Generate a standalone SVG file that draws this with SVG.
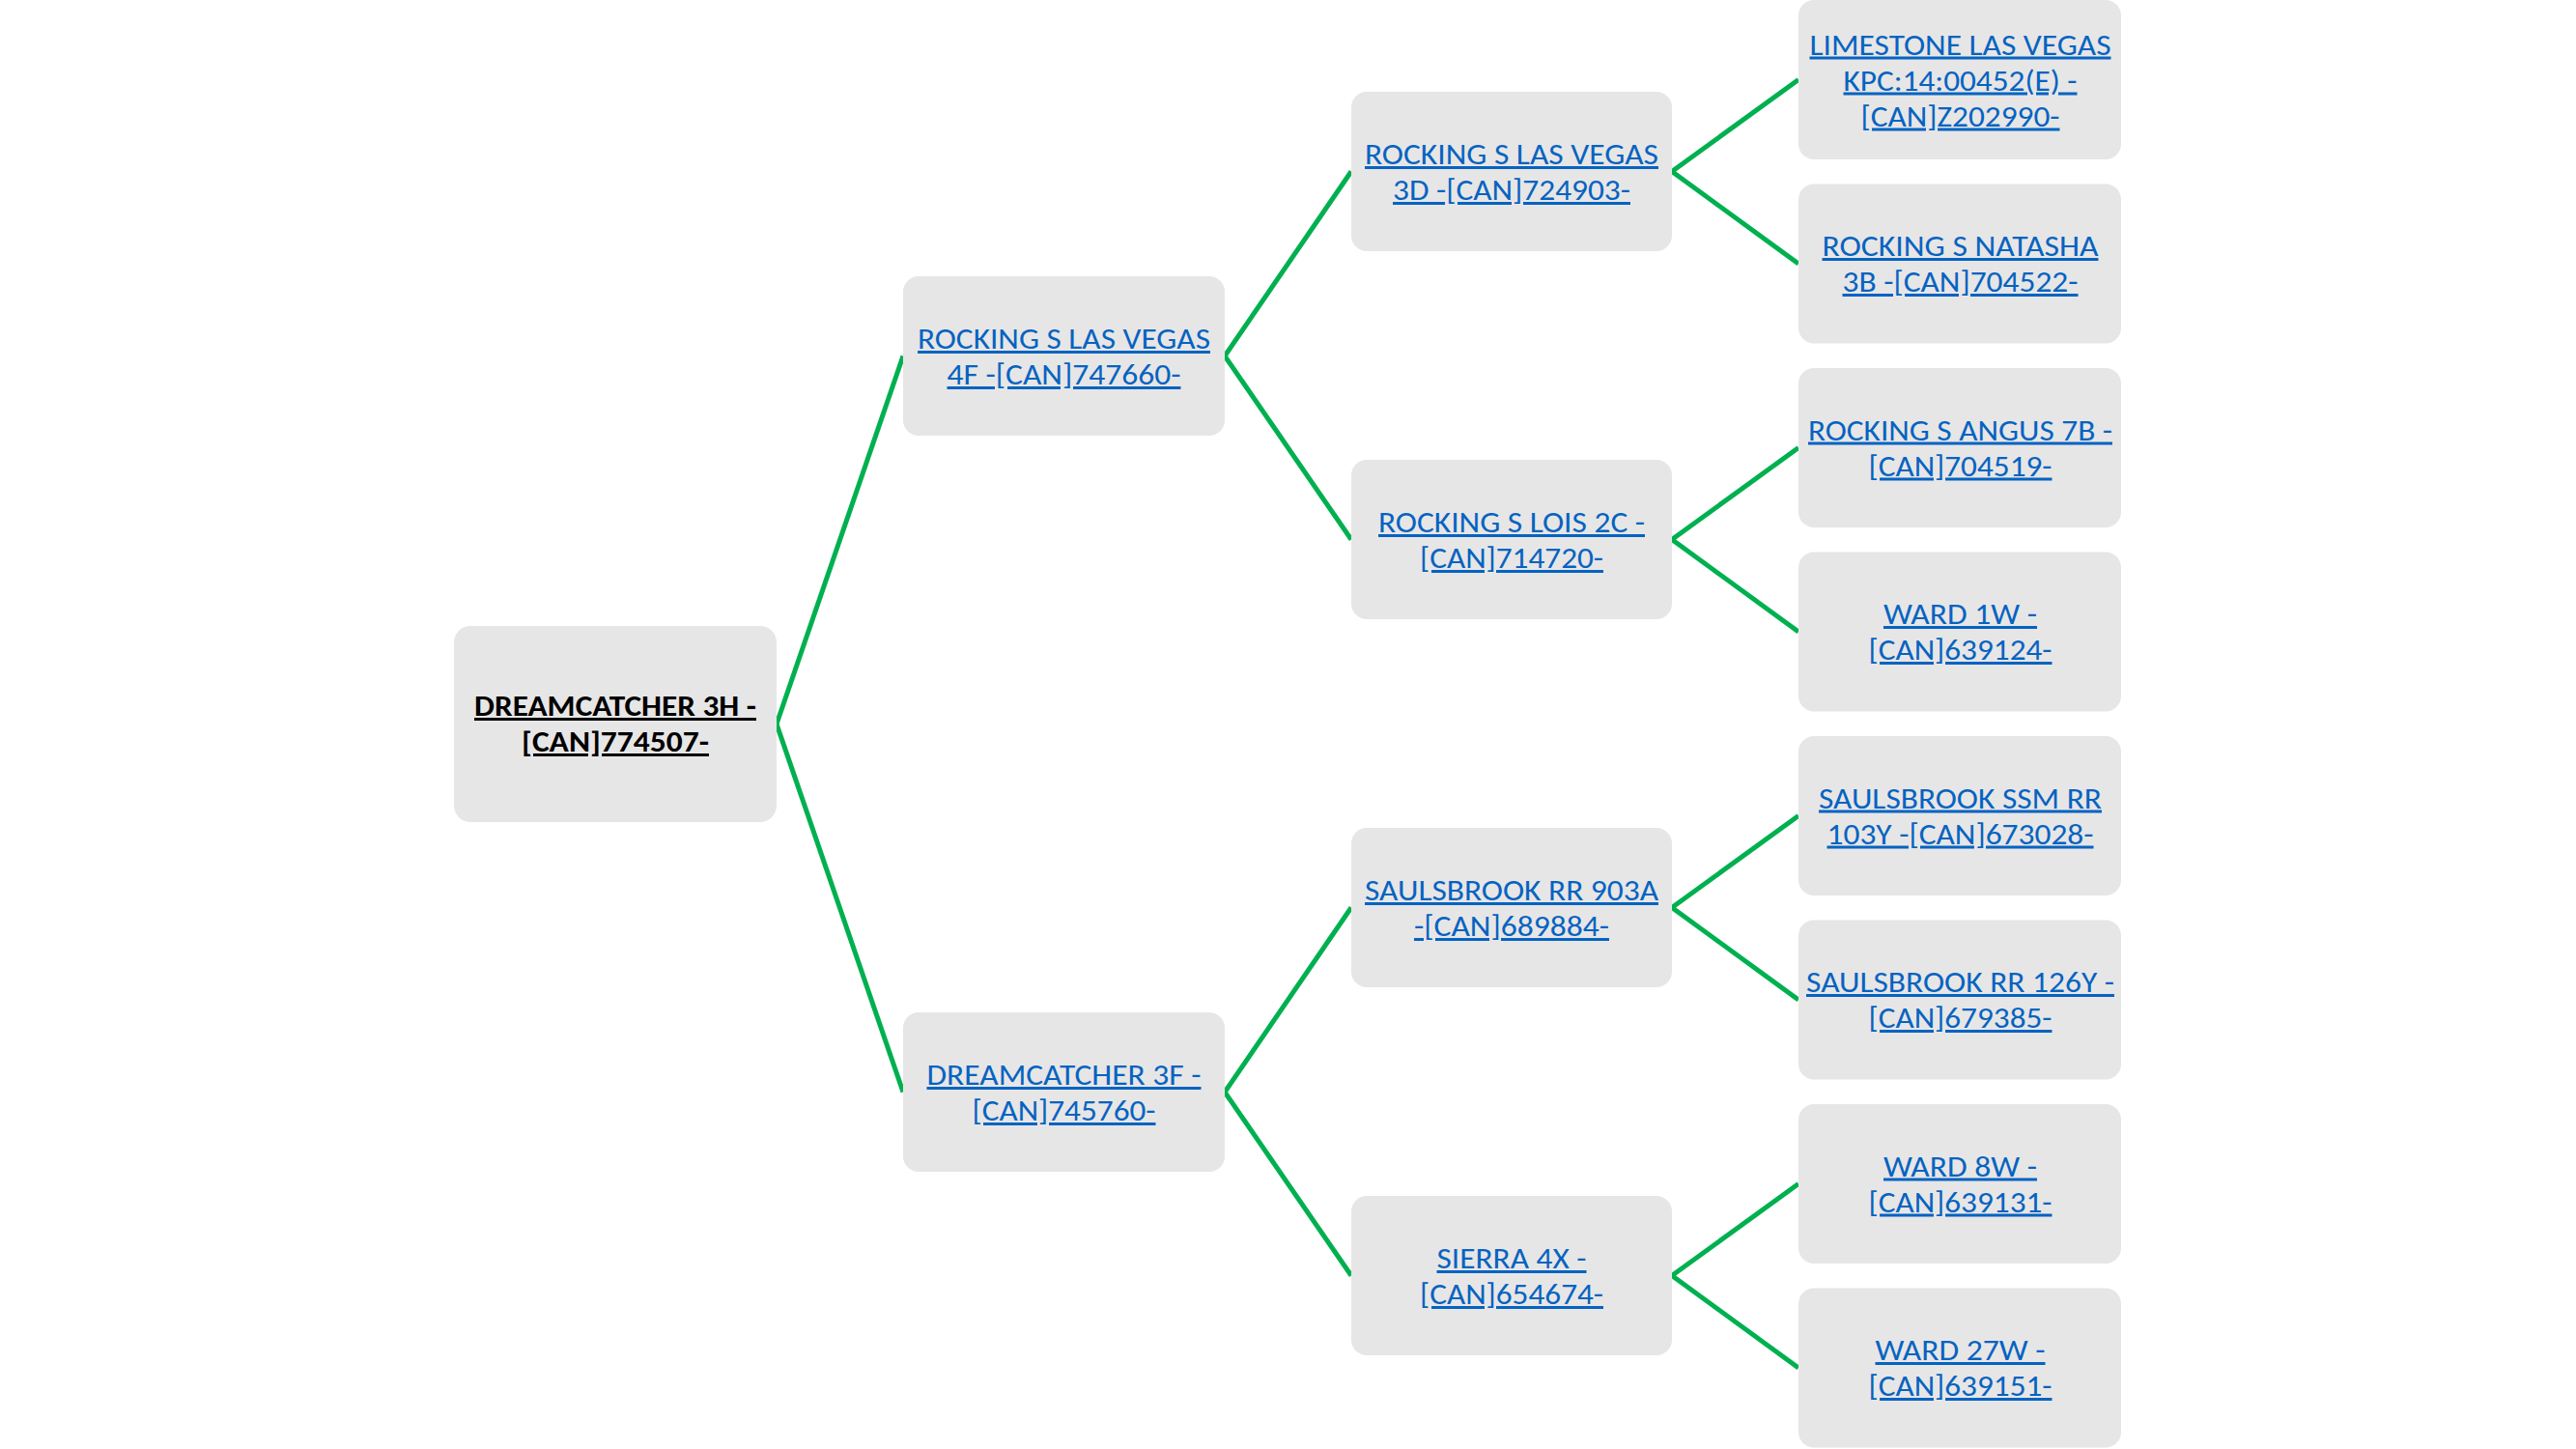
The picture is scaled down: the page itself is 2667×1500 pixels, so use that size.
<svg xmlns="http://www.w3.org/2000/svg" width="2667" height="1500" viewBox="0 0 2667 1500">
<style>
.box{fill:#E7E6E6}
.t{font-family:Carlito,Calibri,Lato,"Open Sans",sans-serif;font-size:30px;fill:#0563C1;text-anchor:middle;text-decoration:underline}
.root{fill:#000000;font-weight:bold}
.c{stroke:#00B050;stroke-width:5;fill:none}
</style>
<rect width="2667" height="1500" fill="#FFFFFF"/>
<g id="connectors">
<line class="c" x1="804" y1="749.5" x2="935" y2="368.5"/>
<line class="c" x1="804" y1="749.5" x2="935" y2="1130.5"/>
<line class="c" x1="1268" y1="368.5" x2="1399" y2="177.5"/>
<line class="c" x1="1268" y1="368.5" x2="1399" y2="558.5"/>
<line class="c" x1="1268" y1="1130.5" x2="1399" y2="939.5"/>
<line class="c" x1="1268" y1="1130.5" x2="1399" y2="1320.5"/>
<line class="c" x1="1731" y1="177.5" x2="1862" y2="82.5"/>
<line class="c" x1="1731" y1="177.5" x2="1862" y2="273"/>
<line class="c" x1="1731" y1="558.5" x2="1862" y2="463.5"/>
<line class="c" x1="1731" y1="558.5" x2="1862" y2="654"/>
<line class="c" x1="1731" y1="939.5" x2="1862" y2="844.5"/>
<line class="c" x1="1731" y1="939.5" x2="1862" y2="1035"/>
<line class="c" x1="1731" y1="1320.5" x2="1862" y2="1225.5"/>
<line class="c" x1="1731" y1="1320.5" x2="1862" y2="1416"/>
</g>
<g id="n-root">
<rect class="box" x="470" y="648" width="334" height="203" rx="17"/>
<text class="t root" x="637" y="741" textLength="292" lengthAdjust="spacingAndGlyphs">DREAMCATCHER 3H -</text>
<text class="t root" x="637" y="778" textLength="194" lengthAdjust="spacingAndGlyphs">[CAN]774507-</text>
</g>
<g id="n-g1a">
<rect class="box" x="935" y="286" width="333" height="165" rx="16"/>
<text class="t" x="1101.5" y="361" textLength="303" lengthAdjust="spacingAndGlyphs">ROCKING S LAS VEGAS</text>
<text class="t" x="1101.5" y="398" textLength="242" lengthAdjust="spacingAndGlyphs">4F -[CAN]747660-</text>
</g>
<g id="n-g1b">
<rect class="box" x="935" y="1048" width="333" height="165" rx="16"/>
<text class="t" x="1101.5" y="1123" textLength="284" lengthAdjust="spacingAndGlyphs">DREAMCATCHER 3F -</text>
<text class="t" x="1101.5" y="1160" textLength="190" lengthAdjust="spacingAndGlyphs">[CAN]745760-</text>
</g>
<g id="n-g2a">
<rect class="box" x="1399" y="95" width="332" height="165" rx="16"/>
<text class="t" x="1565" y="170" textLength="304" lengthAdjust="spacingAndGlyphs">ROCKING S LAS VEGAS</text>
<text class="t" x="1565" y="207" textLength="246" lengthAdjust="spacingAndGlyphs">3D -[CAN]724903-</text>
</g>
<g id="n-g2b">
<rect class="box" x="1399" y="476" width="332" height="165" rx="16"/>
<text class="t" x="1565" y="551" textLength="276" lengthAdjust="spacingAndGlyphs">ROCKING S LOIS 2C -</text>
<text class="t" x="1565" y="588" textLength="190" lengthAdjust="spacingAndGlyphs">[CAN]714720-</text>
</g>
<g id="n-g2c">
<rect class="box" x="1399" y="857" width="332" height="165" rx="16"/>
<text class="t" x="1565" y="932" textLength="304" lengthAdjust="spacingAndGlyphs">SAULSBROOK RR 903A</text>
<text class="t" x="1565" y="969" textLength="202" lengthAdjust="spacingAndGlyphs">-[CAN]689884-</text>
</g>
<g id="n-g2d">
<rect class="box" x="1399" y="1238" width="332" height="165" rx="16"/>
<text class="t" x="1565" y="1313" textLength="155" lengthAdjust="spacingAndGlyphs">SIERRA 4X -</text>
<text class="t" x="1565" y="1350" textLength="190" lengthAdjust="spacingAndGlyphs">[CAN]654674-</text>
</g>
<g id="n-g3a">
<rect class="box" x="1862" y="0" width="334" height="165" rx="16"/>
<text class="t" x="2029.5" y="56.5" textLength="312" lengthAdjust="spacingAndGlyphs">LIMESTONE LAS VEGAS</text>
<text class="t" x="2029.5" y="93.5" textLength="242" lengthAdjust="spacingAndGlyphs">KPC:14:00452(E) -</text>
<text class="t" x="2029.5" y="130.5" textLength="206" lengthAdjust="spacingAndGlyphs">[CAN]Z202990-</text>
</g>
<g id="n-g3b">
<rect class="box" x="1862" y="190.5" width="334" height="165" rx="16"/>
<text class="t" x="2029.5" y="265" textLength="286" lengthAdjust="spacingAndGlyphs">ROCKING S NATASHA</text>
<text class="t" x="2029.5" y="302" textLength="244" lengthAdjust="spacingAndGlyphs">3B -[CAN]704522-</text>
</g>
<g id="n-g3c">
<rect class="box" x="1862" y="381" width="334" height="165" rx="16"/>
<text class="t" x="2029.5" y="455.5" textLength="315" lengthAdjust="spacingAndGlyphs">ROCKING S ANGUS 7B -</text>
<text class="t" x="2029.5" y="492.5" textLength="190" lengthAdjust="spacingAndGlyphs">[CAN]704519-</text>
</g>
<g id="n-g3d">
<rect class="box" x="1862" y="571.5" width="334" height="165" rx="16"/>
<text class="t" x="2029.5" y="646" textLength="159" lengthAdjust="spacingAndGlyphs">WARD 1W -</text>
<text class="t" x="2029.5" y="683" textLength="190" lengthAdjust="spacingAndGlyphs">[CAN]639124-</text>
</g>
<g id="n-g3e">
<rect class="box" x="1862" y="762" width="334" height="165" rx="16"/>
<text class="t" x="2029.5" y="836.5" textLength="293" lengthAdjust="spacingAndGlyphs">SAULSBROOK SSM RR</text>
<text class="t" x="2029.5" y="873.5" textLength="276" lengthAdjust="spacingAndGlyphs">103Y -[CAN]673028-</text>
</g>
<g id="n-g3f">
<rect class="box" x="1862" y="952.5" width="334" height="165" rx="16"/>
<text class="t" x="2029.5" y="1027" textLength="319" lengthAdjust="spacingAndGlyphs">SAULSBROOK RR 126Y -</text>
<text class="t" x="2029.5" y="1064" textLength="190" lengthAdjust="spacingAndGlyphs">[CAN]679385-</text>
</g>
<g id="n-g3g">
<rect class="box" x="1862" y="1143" width="334" height="165" rx="16"/>
<text class="t" x="2029.5" y="1217.5" textLength="159" lengthAdjust="spacingAndGlyphs">WARD 8W -</text>
<text class="t" x="2029.5" y="1254.5" textLength="190" lengthAdjust="spacingAndGlyphs">[CAN]639131-</text>
</g>
<g id="n-g3h">
<rect class="box" x="1862" y="1333.5" width="334" height="165" rx="16"/>
<text class="t" x="2029.5" y="1408" textLength="176" lengthAdjust="spacingAndGlyphs">WARD 27W -</text>
<text class="t" x="2029.5" y="1445" textLength="190" lengthAdjust="spacingAndGlyphs">[CAN]639151-</text>
</g>
</svg>
